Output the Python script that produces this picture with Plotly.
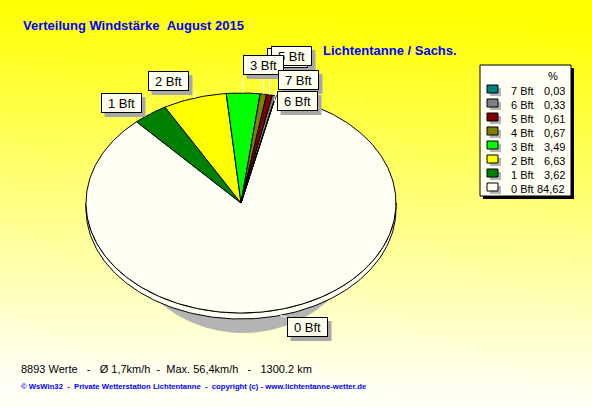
import numpy as np
import plotly.graph_objects as go

# wind force distribution, August 2015
classes = ["0 Bft", "1 Bft", "2 Bft", "3 Bft", "4 Bft", "5 Bft", "6 Bft", "7 Bft"]
percent = [84.62, 3.62, 6.63, 3.49, 0.67, 0.61, 0.33, 0.03]
colors = ["#FFFFF4", "#008000", "#FFFF00", "#00FF00", "#808000", "#800000", "#808080", "#008080"]

title = "Verteilung Windstärke  August 2015"
station = "Lichtentanne / Sachs."
summary = "8893 Werte   -   Ø 1,7km/h  -  Max. 56,4km/h   -   1300.2 km"
footer = "© WsWin32  -  Private Wetterstation Lichtentanne  -  copyright (c) - www.lichtentanne-wetter.de"

W, H = 592, 407
CX, CY, RX, RY, DEPTH = 241, 203, 155, 110, 6
START = 13.0  # degrees clockwise from top

# label box centres (layout), drawn in this order
label_pos = {
    "0 Bft": (307, 327), "1 Bft": (121, 103), "2 Bft": (168, 81),
    "4 Bft": (287, 58), "5 Bft": (291, 56), "3 Bft": (263, 65),
    "7 Bft": (298, 80), "6 Bft": (297, 101),
}
BOX_W, BOX_H = 41, 20


def nb(s):
    return s.replace(" ", "\u00a0")


def edge(theta, dy=0.0):
    t = np.radians(theta)
    return CX + RX * np.sin(t), CY - RY * np.cos(t) + dy


fig = go.Figure()

# background gradient: yellow top-right -> ivory bottom-left
gx = np.linspace(0, W, 6)
gy = np.linspace(0, H, 21)
gz = np.clip((gy[:, None] - 20) / 380 + 0.06 * (1 - gx[None, :] / W), 0, 1)
fig.add_trace(go.Heatmap(x=gx, y=gy, z=gz, zmin=0, zmax=1, zsmooth="best",
                         colorscale=[[0, "#FFFF00"], [1, "#FFFFF6"]],
                         showscale=False, hoverinfo="skip"))

# shadow under the pie
st = np.linspace(0, 360, 181)
fig.add_trace(go.Scatter(x=243 + 120 * np.sin(np.radians(st)), y=223 - 110 * np.cos(np.radians(st)),
                         fill="toself", fillcolor="#B4B4B4", line=dict(width=0),
                         mode="lines", hoverinfo="skip", showlegend=False))

cum = np.concatenate([[0], np.cumsum(percent)])
angles = [(START + 3.6 * cum[i], START + 3.6 * cum[i + 1]) for i in range(len(percent))]

# front side of the tilted pie
for (a0, a1), col in zip(angles, colors):
    s0, s1 = max(a0, 90), min(a1, 270)
    if s1 <= s0:
        continue
    th = np.linspace(s0, s1, int(s1 - s0) + 2)
    tx, ty = edge(th)
    bx, by = edge(th[::-1], DEPTH)
    fig.add_trace(go.Scatter(x=np.concatenate([tx, bx, tx[:1]]), y=np.concatenate([ty, by, ty[:1]]),
                             fill="toself", fillcolor=col, line=dict(color="black", width=1),
                             mode="lines", hoverinfo="skip", showlegend=False))

# top surface slices
for (a0, a1), col, name in zip(angles, colors, classes):
    th = np.linspace(a0, a1, max(2, int(a1 - a0) + 2))
    ex, ey = edge(th)
    fig.add_trace(go.Scatter(x=np.concatenate([[CX], ex, [CX]]), y=np.concatenate([[CY], ey, [CY]]),
                             fill="toself", fillcolor=col, line=dict(color="black", width=1),
                             mode="lines", name=name, hoverinfo="skip", showlegend=False))

shapes = []
annotations = []

# leader lines
for (a0, a1), name in zip(angles, classes):
    ex, ey = edge((a0 + a1) / 2)
    bx, by = label_pos[name]
    if by < ey:
        y_end = min(by + BOX_H / 2, ey)
        shapes.append(dict(type="line", x0=ex, y0=ey, x1=ex, y1=y_end,
                           line=dict(color="white", width=1)))
    else:
        shapes.append(dict(type="line", x0=ex, y0=ey + DEPTH, x1=bx - BOX_W / 2, y1=by - BOX_H / 2,
                           line=dict(color="white", width=1)))

# label box shadows
for name, (bx, by) in label_pos.items():
    shapes.append(dict(type="rect", x0=bx - BOX_W / 2 + 4, x1=bx + BOX_W / 2 + 4,
                       y0=by - BOX_H / 2 + 4, y1=by + BOX_H / 2 + 4,
                       fillcolor="#A8A8A8", line=dict(width=0)))

for name, (bx, by) in label_pos.items():
    annotations.append(dict(x=bx, y=by, text=nb(name), showarrow=False, width=BOX_W - 4, height=BOX_H - 4,
                            bgcolor="#FFFFF0", bordercolor="black", borderwidth=1, borderpad=1,
                            font=dict(family="Liberation Sans, Arial", size=13, color="black")))

# legend box
LX0, LY0, LX1, LY1 = 480, 65, 571, 196
shapes.append(dict(type="rect", x0=LX0 + 3, y0=LY0 + 3, x1=LX1 + 3, y1=LY1 + 3,
                   fillcolor="black", line=dict(width=0)))
shapes.append(dict(type="rect", x0=LX0, y0=LY0, x1=LX1, y1=LY1,
                   fillcolor="#FFFFF4", line=dict(color="black", width=1)))
annotations.append(dict(x=553, y=76, text="%", showarrow=False,
                        font=dict(family="Liberation Sans, Arial", size=11, color="black")))
for i, idx in enumerate(range(len(classes) - 1, -1, -1)):
    ry = 91 + 14 * i
    shapes.append(dict(type="rect", x0=490, x1=501, y0=ry - 3, y1=ry + 5,
                       fillcolor="#B4B4B4", line=dict(width=0)))
    shapes.append(dict(type="rect", x0=487, x1=498, y0=ry - 6, y1=ry + 2,
                       fillcolor=colors[idx], line=dict(color="black", width=1)))
    annotations.append(dict(x=509, y=ry, text=nb(classes[idx]), showarrow=False, xanchor="left",
                            font=dict(family="Liberation Sans, Arial", size=11, color="black")))
    annotations.append(dict(x=567, y=ry, text=f"{percent[idx]:.2f}".replace(".", ","), showarrow=False,
                            xanchor="right",
                            font=dict(family="Liberation Sans, Arial", size=11, color="black")))

# texts
annotations.append(dict(x=21, y=25, text=f"<b>{nb(title)}</b>", showarrow=False, xanchor="left",
                        font=dict(family="Liberation Sans, Arial", size=13, color="#0000FF")))
annotations.append(dict(x=321, y=50, text=f"<b>{nb(station)}</b>", showarrow=False, xanchor="left",
                        font=dict(family="Liberation Sans, Arial", size=13, color="#0000FF")))
annotations.append(dict(x=19, y=369, text=nb(summary), showarrow=False, xanchor="left",
                        font=dict(family="Liberation Sans, Arial", size=11, color="black")))
annotations.append(dict(x=19, y=386, text=f"<b>{nb(footer)}</b>", showarrow=False, xanchor="left",
                        font=dict(family="Liberation Sans, Arial", size=7.7, color="#0000FF")))

fig.update_layout(
    width=W, height=H,
    margin=dict(l=0, r=0, t=0, b=0),
    paper_bgcolor="#FFFFF4", plot_bgcolor="rgba(0,0,0,0)",
    xaxis=dict(range=[0, W], visible=False, fixedrange=True),
    yaxis=dict(range=[H, 0], visible=False, fixedrange=True),
    shapes=shapes, annotations=annotations, showlegend=False,
)
fig.write_html("out.html", config={"displayModeBar": False},
               post_script="document.body.style.margin='0';")
